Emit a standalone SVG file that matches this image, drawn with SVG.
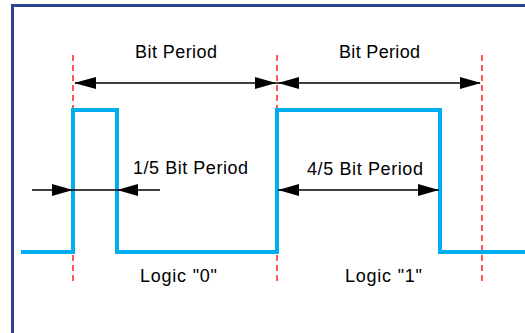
<svg xmlns="http://www.w3.org/2000/svg" width="525" height="333" viewBox="0 0 525 333">
<style>
.frame{fill:#ffffff;stroke:#2b4593;stroke-width:3}
.guide{stroke:#ff2020;stroke-width:1.5;stroke-dasharray:6 4;fill:none}
.wave{stroke:#00aeef;stroke-width:4;fill:none;stroke-linejoin:miter}
.dim{stroke:#000;stroke-width:1.4;fill:none}
.head{fill:#000}
.lbl{font-family:"Liberation Sans",Arial,sans-serif;font-size:18px;fill:#000}
</style>
<rect class="frame" x="12.5" y="5.5" width="530" height="340"/>
<g id="guides">
<line class="guide" x1="73" y1="55" x2="73" y2="284"/>
<line class="guide" x1="277" y1="55" x2="277" y2="284"/>
<line class="guide" x1="482" y1="55" x2="482" y2="284"/>
</g>
<g id="waveform">
<polyline class="wave" points="21,252 73,252 73,110 117,110 117,252 277,252 277,110 440,110 440,252 525,252"/>
</g>
<g id="connectors">
<line class="dim" x1="75" y1="83" x2="480" y2="83"/>
<polygon class="head" points="74,83 96,77 96,89"/>
<polygon class="head" points="276,83 255,77 255,89"/>
<polygon class="head" points="278,83 299,77 299,89"/>
<polygon class="head" points="481,83 460,77 460,89"/>
<line class="dim" x1="32" y1="190" x2="160" y2="190"/>
<polygon class="head" points="73,190 52,184 52,196"/>
<polygon class="head" points="117,190 138,184 138,196"/>
<line class="dim" x1="278" y1="190" x2="439" y2="190"/>
<polygon class="head" points="278,190 299,184 299,196"/>
<polygon class="head" points="439,190 418,184 418,196"/>
</g>
<g id="labels">
<text class="lbl" x="135" y="58" textLength="82">Bit Period</text>
<text class="lbl" x="339" y="58" textLength="81">Bit Period</text>
<text class="lbl" x="133" y="174" textLength="115">1/5 Bit Period</text>
<text class="lbl" x="307" y="175" textLength="116">4/5 Bit Period</text>
<text class="lbl" x="140" y="282" textLength="77">Logic "0"</text>
<text class="lbl" x="345" y="282" textLength="77">Logic "1"</text>
</g>
</svg>
